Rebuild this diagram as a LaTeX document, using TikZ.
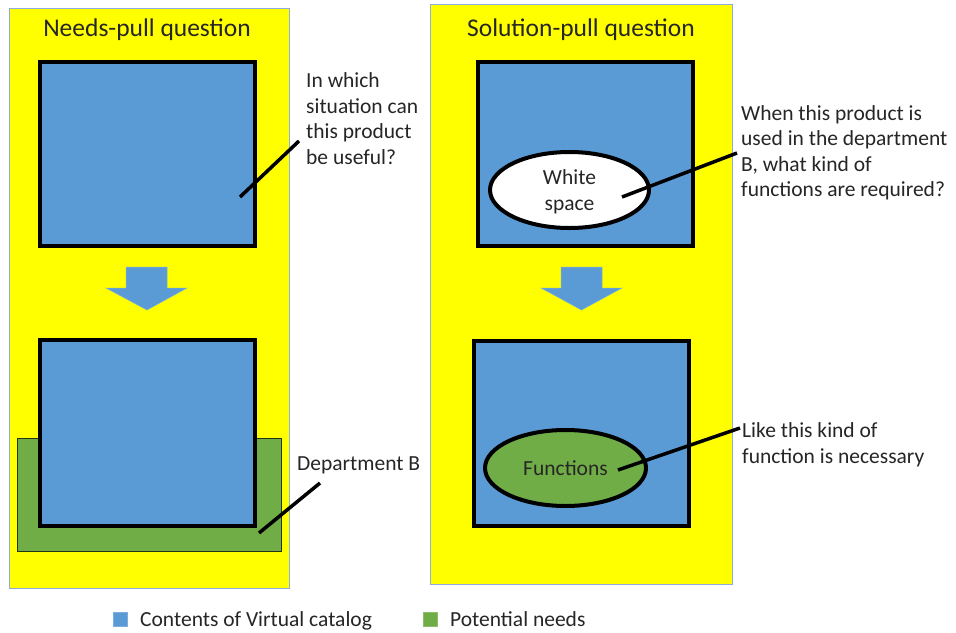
\documentclass[tikz,border=0pt]{standalone}
\usepackage{fontspec}
\setmainfont{Carlito}
\usetikzlibrary{shapes.geometric}
\definecolor{panelyellow}{HTML}{FFFF00}
\definecolor{catblue}{HTML}{5B9BD5}
\definecolor{needgreen}{HTML}{70AD47}
\definecolor{paneledge}{HTML}{8FAADC}
\definecolor{inkgray}{HTML}{262626}

\begin{document}
\begin{tikzpicture}[x=1pt, y=-1pt,
  panel/.style={draw=paneledge, line width=1, fill=panelyellow, inner sep=0},
  catbox/.style={draw=black, line width=4, fill=catblue, inner sep=0,
                 minimum width=215, minimum height=184},
  needbox/.style={draw=black!70!needgreen, line width=1, fill=needgreen, inner sep=0},
  bubble/.style={ellipse, draw=black, line width=4, inner sep=0},
  bubbletext/.style={text=inkgray, inner sep=0, align=center,
                     font=\fontsize{21.5}{26}\selectfont},
  title/.style={text=inkgray, inner sep=0, anchor=base, font=\fontsize{25.5}{30}\selectfont},
  note/.style={text=inkgray, inner sep=0, anchor=west, align=left,
               font=\fontsize{21.5}{25.5}\selectfont},
  leader/.style={draw=black, line width=3.5},
  flowarrow/.style={fill=catblue, draw=catblue!80!white, line width=0.5},
  keybox/.style={fill=#1, draw=#1!80!white, line width=0.6, minimum width=14,
                 minimum height=14, inner sep=0},
  keytext/.style={text=inkgray, inner sep=0, anchor=base west,
                  font=\fontsize{21.5}{25.5}\selectfont}
]
\useasboundingbox (0,0) rectangle (956,632);
\fill[white] (0,0) rectangle (956,632);

% ---- left panel: needs-pull ----
\node[panel, minimum width=280, minimum height=580] (lpanel) at (149,298) {};
\node[title] (ltitle) at (147,36.7) {Needs-pull question};
\node[catbox] (ltop) at (147.5,154) {};
\path[flowarrow] (126,267) -- (167,267) -- (167,288) -- (187,288) -- (147,310)
  -- (106,288) -- (126,288) -- cycle;
\node[needbox, minimum width=264, minimum height=113] (lneed) at (149,494.5) {};
\node[catbox, minimum height=186] (lbottom) at (147.5,433) {};

\node[note] (lq) at (306,118.5) {In which\\situation can\\this product\\be useful?};
\node[note] (ldept) at (297,465) {Department B};

\coordinate (lqin) at (240,197);
\coordinate (lqout) at (299,141);
\draw[leader] (lqin) -- (lqout);
\coordinate (ldin) at (259,533);
\coordinate (ldout) at (320,483);
\draw[leader] (ldin) -- (ldout);

% ---- right panel: solution-pull ----
\node[panel, minimum width=302, minimum height=580] (rpanel) at (581,294) {};
\node[title] (rtitle) at (581,36) {Solution-pull question};
\node[catbox] (rtop) at (585.5,154) {};
\node[bubble, fill=white, minimum width=159, minimum height=76] (white) at (569.5,190) {};
\node[bubbletext] (whitetext) at (569.5,192) {White\\space};
\path[flowarrow] (561,267) -- (602,267) -- (602,288) -- (622,288) -- (581.5,310)
  -- (541,288) -- (561,288) -- cycle;
\node[catbox, minimum height=185] (rbottom) at (581.5,433.5) {};
\node[bubble, fill=needgreen, minimum width=161, minimum height=76] (func) at (565.5,468) {};
\node[bubbletext] (functext) at (565.5,468) {Functions};

\node[note] (rq) at (741,153) {When this product is\\used in the department\\B, what kind of\\functions are required?};
\node[note] (rans) at (742,445) {Like this kind of\\function is necessary};

\coordinate (rqin) at (622,197);
\coordinate (rqout) at (737,153);
\draw[leader] (rqin) -- (rqout);
\coordinate (rain) at (618,470);
\coordinate (raout) at (740,428);
\draw[leader] (rain) -- (raout);

% ---- legend ----
\node[keybox=catblue] (kblue) at (120,619) {};
\node[keytext] (kbluetext) at (140,626) {Contents of Virtual catalog};
\node[keybox=needgreen] (kgreen) at (430,619) {};
\node[keytext] (kgreentext) at (450,626) {Potential needs};
\end{tikzpicture}
\end{document}
